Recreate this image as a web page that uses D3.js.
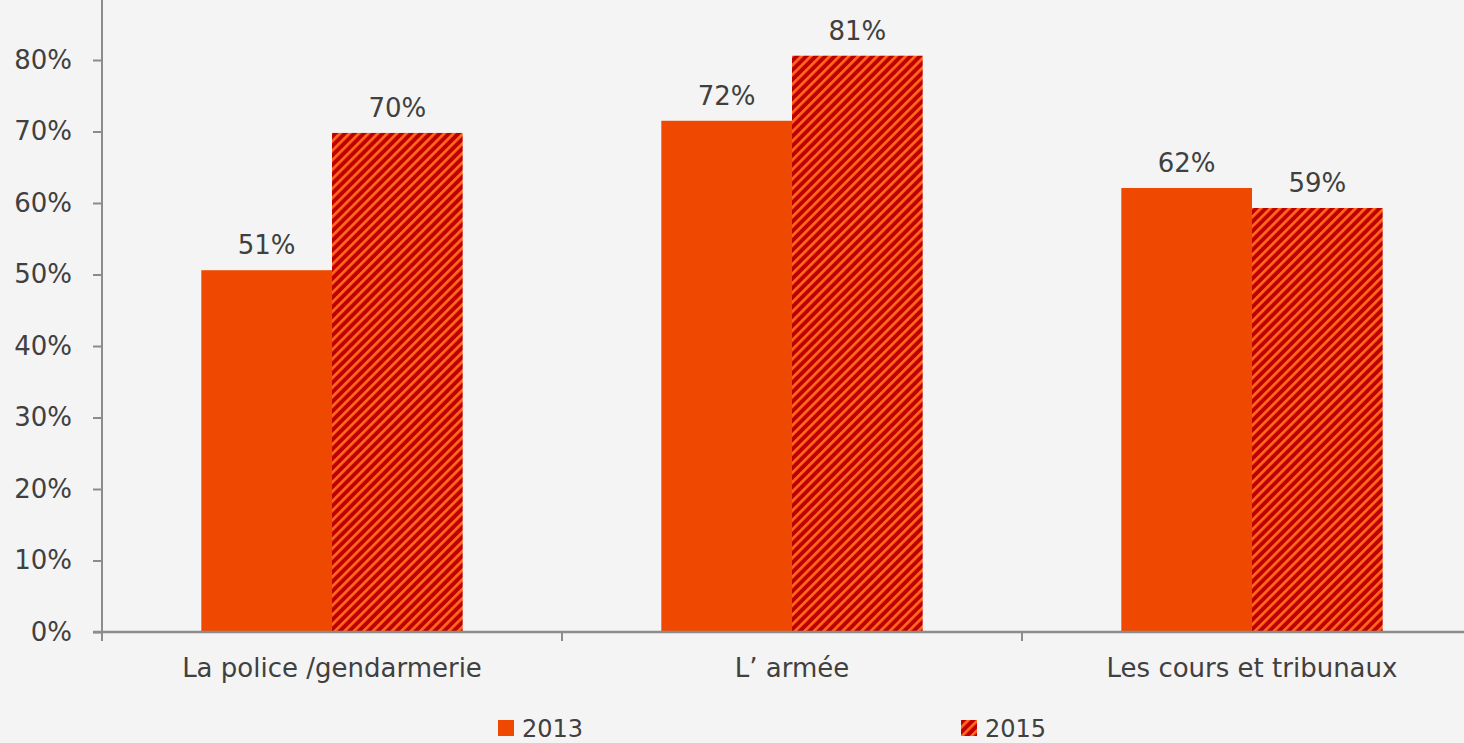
<!DOCTYPE html>
<html><head><meta charset="utf-8">
<script src="https://cdn.jsdelivr.net/npm/d3@7"></script>
<style>
html,body{margin:0;padding:0;background:#f4f4f4;}
svg{display:block;}
text{font-family:"DejaVu Sans",sans-serif;fill:#404040;}
</style></head>
<body>
<svg id="c" width="1464" height="743"></svg>
<script>
const categories = ["La police /gendarmerie", "L\u2019 armée", "Les cours et tribunaux"];
const seriesNames = ["2013", "2015"];
const values2013 = [0.506, 0.715, 0.621];
const values2015 = [0.698, 0.806, 0.593];
const labels2013 = ["51%", "72%", "62%"];
const labels2015 = ["70%", "81%", "59%"];
const yTicks = [0, 0.1, 0.2, 0.3, 0.4, 0.5, 0.6, 0.7, 0.8];

const svg = d3.select("#c");
const W = 1464, H = 743;
const m = {left:102};
const plotRight = 1482;

svg.append("rect").attr("width",W).attr("height",H).attr("fill","#f4f4f4");

const defs = svg.append("defs");
const pat = defs.append("pattern").attr("id","stripes")
  .attr("patternUnits","userSpaceOnUse").attr("width",6.7).attr("height",6.7)
  .attr("patternTransform","rotate(45)");
pat.append("rect").attr("width",6.7).attr("height",6.7).attr("fill","#c00000");
pat.append("rect").attr("x",0).attr("width",2.7).attr("height",6.7).attr("fill","#ff6a1f");

const y = d3.scaleLinear().domain([0,0.8]).range([632, 60]);
const x0 = d3.scaleBand().domain(categories).range([m.left, plotRight]).padding(0);
const x1 = d3.scaleBand().domain(seriesNames).range([0, x0.bandwidth()]).paddingInner(0).paddingOuter(0.76);

const data = categories.map((c,i)=>({cat:c, vals:[
  {s:"2013", v:values2013[i], l:labels2013[i]},
  {s:"2015", v:values2015[i], l:labels2015[i]}]}));

const fill = s => s==="2013" ? "#ef4800" : "url(#stripes)";

const g = svg.append("g");
const groups = g.selectAll("g.grp").data(data).join("g")
  .attr("transform", d=>`translate(${x0(d.cat)},0)`);
groups.selectAll("rect").data(d=>d.vals).join("rect")
  .attr("x", d=>x1(d.s)).attr("width", x1.bandwidth())
  .attr("y", d=>y(d.v)).attr("height", d=>y(0)-y(d.v))
  .attr("fill", d=>fill(d.s));
groups.selectAll("text.lbl").data(d=>d.vals).join("text").attr("class","lbl")
  .attr("x", d=>x1(d.s)+x1.bandwidth()/2).attr("y", d=>y(d.v)-16)
  .attr("text-anchor","middle").attr("font-size",26).text(d=>d.l);

// y axis
const ya = svg.append("g").attr("transform",`translate(${m.left},0)`)
  .call(d3.axisLeft(y).tickValues(yTicks).tickSize(9).tickFormat(d3.format(".0%")));
ya.select(".domain").remove();
ya.append("line").attr("x1",0).attr("x2",0).attr("y1",0).attr("y2",y(0)).attr("stroke","#8c8c8c").attr("stroke-width",2);
ya.selectAll(".tick line").attr("stroke","#8c8c8c").attr("stroke-width",2);
ya.selectAll(".tick text").attr("font-size",26).attr("x",-30).attr("fill","#404040").attr("font-family","DejaVu Sans");

// x axis
const xa = svg.append("g").attr("transform",`translate(0,${y(0)})`);
xa.append("line").attr("x1",m.left-9).attr("x2",W).attr("stroke","#8c8c8c").attr("stroke-width",2.5);
const bounds = categories.map(c=>x0(c)).concat([plotRight]);
xa.selectAll("line.t").data(bounds).join("line").attr("class","t")
  .attr("x1",d=>d).attr("x2",d=>d).attr("y1",0).attr("y2",9).attr("stroke","#8c8c8c").attr("stroke-width",2);
xa.selectAll("text.cat").data(categories).join("text").attr("class","cat")
  .attr("x",d=>x0(d)+x0.bandwidth()/2).attr("y",45).attr("text-anchor","middle")
  .attr("font-size",26).text(d=>d);

// legend
const leg = svg.append("g");
const legPos = [498, 961];
seriesNames.forEach((s,i)=>{
  leg.append("rect").attr("x",legPos[i]).attr("y",720).attr("width",16).attr("height",16).attr("fill",fill(s));
  leg.append("text").attr("x",legPos[i]+24).attr("y",737).attr("font-size",24).text(s);
});
</script>
</body></html>
